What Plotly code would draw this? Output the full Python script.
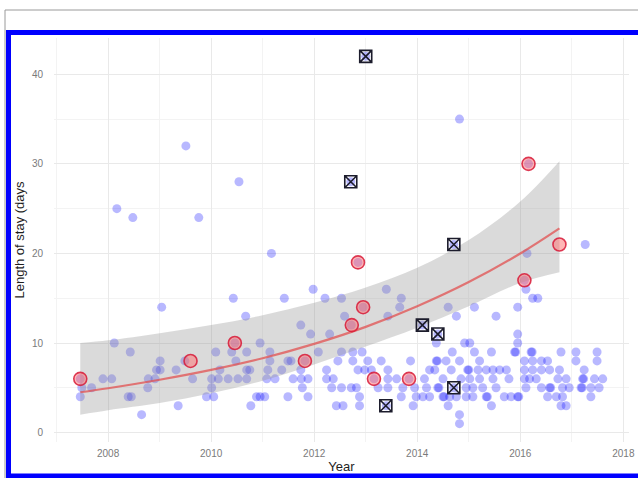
import plotly.graph_objects as go

# Length of stay (days) per admission, by year of admission
blue_year = [
    2014.82,
    2008.65, 2014.82,
    2009.36, 2010.77, 2012.43, 2012.56, 2012.88, 2013.40, 2013.92, 2014.60, 2015.44, 2016.79, 2016.89,
    2007.46, 2008.39, 2008.45, 2009.91, 2010.05, 2010.88, 2010.95, 2011.04, 2011.49, 2011.88, 2012.88,
    2013.69, 2013.98, 2014.11, 2014.24, 2014.50, 2014.52, 2014.63, 2014.76, 2014.95, 2015.08, 2015.34,
    2015.36, 2015.69, 2015.82, 2015.95, 2015.97, 2016.53, 2016.70, 2016.82, 2017.37,
    2007.49, 2007.68, 2008.77, 2010.01, 2011.77, 2012.34, 2012.53, 2012.72, 2012.82, 2013.24, 2013.43,
    2013.72, 2013.95, 2014.18, 2014.40, 2014.42, 2014.71, 2014.95, 2015.08, 2015.27, 2015.53, 2016.11,
    2016.41, 2016.57, 2016.59, 2016.82, 2016.95, 2017.18, 2017.20, 2017.37, 2017.53,
    2007.46, 2007.90, 2008.07, 2008.78, 2008.91, 2009.64, 2010.01, 2010.14, 2010.33, 2010.52, 2010.69,
    2011.08, 2011.24, 2011.59, 2011.75, 2011.88, 2012.24, 2012.37, 2013.16, 2013.43, 2013.60, 2013.84,
    2014.14, 2014.50, 2014.85, 2015.02, 2015.21, 2015.47, 2015.78, 2016.08, 2016.18, 2016.31, 2016.73,
    2016.89, 2017.21, 2017.23, 2017.44, 2017.60,
    2008.94, 2009.01, 2009.32, 2010.17, 2010.69, 2010.75, 2011.10, 2011.37, 2011.74, 2012.24, 2012.85,
    2012.98, 2013.11, 2013.43, 2014.24, 2014.34, 2014.66, 2014.98, 2015.00, 2015.18, 2015.34, 2015.47,
    2015.60, 2015.73, 2016.08, 2016.24, 2016.41, 2016.57, 2016.76, 2017.24,
    2009.01, 2009.49, 2010.48, 2011.14, 2011.49, 2011.55, 2011.82, 2012.46, 2012.75, 2013.04, 2013.30,
    2013.87, 2014.37, 2014.39, 2014.56, 2014.82, 2015.21, 2016.08, 2016.24, 2016.41, 2016.53, 2017.08,
    2017.49,
    2008.43, 2010.09, 2010.40, 2010.69, 2011.14, 2012.08, 2012.53, 2012.75, 2012.93, 2014.68, 2015.11,
    2015.44, 2015.89, 2015.91, 2016.21, 2016.23, 2016.79, 2017.08, 2017.49,
    2008.12, 2010.46, 2010.95, 2014.37, 2014.92, 2015.02, 2015.95,
    2011.93, 2012.30, 2014.40, 2015.95,
    2011.74, 2012.72, 2014.10,
    2010.67, 2012.59, 2013.43, 2014.76, 2015.53,
    2009.04, 2012.95, 2013.66, 2014.60, 2015.11, 2015.95,
    2010.43, 2011.42, 2012.21, 2012.53, 2013.69, 2016.24, 2016.34,
    2011.98, 2013.40, 2016.11,
    2016.08,
    2012.85,
    2011.17, 2016.13,
    2014.71, 2017.26,
    2008.48, 2009.76,
    2008.17,
    2010.54, 2012.71,
    2016.16,
    2009.51,
    2014.82,
    2013.00,
]
blue_days = (
    [1]
    + [2] * 2
    + [3] * 11
    + [4] * 31
    + [5] * 31
    + [6] * 38
    + [7] * 30
    + [8] * 23
    + [9] * 19
    + [10] * 7
    + [11] * 4
    + [12] * 3
    + [13] * 5
    + [14] * 6
    + [15] * 7
    + [16] * 3
    + [17]
    + [19]
    + [20] * 2
    + [21] * 2
    + [24] * 2
    + [25]
    + [28] * 2
    + [30]
    + [32]
    + [35]
    + [42]
)

# Highlighted admissions (red circles)
red_year = [2007.46, 2009.60, 2010.46, 2011.82, 2012.73, 2012.85, 2012.95, 2013.16, 2013.84, 2016.16, 2016.08, 2016.76]
red_days = [6, 8, 10, 8, 12, 19, 14, 6, 6, 30, 17, 21]

# Flagged admissions (boxed crosses)
flag_year = [2013.00, 2012.71, 2014.71, 2014.10, 2014.40, 2013.39, 2014.71]
flag_days = [42, 28, 21, 12, 11, 3, 5]

# Fitted trend for the highlighted admissions, with its confidence band
fit_year = [2007.46, 2008, 2009, 2010, 2011, 2012, 2013, 2014, 2015, 2016, 2016.76]
fit_mid = [4.5, 4.95, 5.9, 7.0, 8.3, 9.9, 11.8, 14.1, 16.8, 20.0, 22.8]
fit_upper = [10.0, 10.3, 11.1, 12.0, 13.1, 14.5, 16.2, 18.4, 21.5, 25.8, 30.3]
fit_lower = [2.0, 2.5, 3.3, 4.4, 5.8, 7.6, 9.6, 11.7, 14.1, 16.7, 17.9]

x_ticks = [2008, 2010, 2012, 2014, 2016, 2018]
y_ticks = [0, 10, 20, 30, 40]

W, H = 638, 478
L, R, T, B = 54, 9, 38, 36
FONT = "Liberation Sans, Arial, sans-serif"


def px_x(p):
    return (p - L) / (W - L - R)


def px_y(p):
    return (H - B - p) / (H - T - B)


fig = go.Figure()

fig.add_trace(go.Scatter(
    x=blue_year, y=blue_days, mode="markers",
    marker=dict(size=9, color="rgba(0,0,255,0.28)", line=dict(width=0)),
    hoverinfo="skip", showlegend=False,
))

# confidence band: lower edge, then upper edge filled down to it
fig.add_trace(go.Scatter(
    x=fit_year, y=fit_lower, mode="lines",
    line=dict(width=0, shape="spline", color="rgba(0,0,0,0)"),
    hoverinfo="skip", showlegend=False,
))
fig.add_trace(go.Scatter(
    x=fit_year, y=fit_upper, mode="lines", fill="tonexty",
    fillcolor="rgba(150,150,150,0.35)",
    line=dict(width=0, shape="spline", color="rgba(0,0,0,0)"),
    hoverinfo="skip", showlegend=False,
))

fig.add_trace(go.Scatter(
    x=fit_year, y=fit_mid, mode="lines",
    line=dict(color="rgba(225,80,80,0.75)", width=2.2, shape="spline"),
    hoverinfo="skip", showlegend=False,
))

fig.add_trace(go.Scatter(
    x=red_year, y=red_days, mode="markers",
    marker=dict(size=13, color="rgba(255,110,110,0.5)",
                line=dict(width=1.6, color="rgba(215,25,55,0.85)")),
    hoverinfo="skip", showlegend=False,
))

fig.add_trace(go.Scatter(
    x=flag_year, y=flag_days, mode="markers",
    marker=dict(size=12, symbol="square-x-open", color="#1c1c2c",
                line=dict(width=1.6, color="#1c1c2c")),
    hoverinfo="skip", showlegend=False,
))

grid_major = "#e9e9e9"
grid_minor = "#f3f3f3"

fig.update_xaxes(
    range=[2006.95, 2018.11], tickvals=x_ticks, ticks="", ticklabelstandoff=4,
    automargin=False,
    showline=False, zeroline=False, showgrid=True, gridcolor=grid_major, gridwidth=1,
    minor=dict(dtick=1, tick0=2007, showgrid=True, gridcolor=grid_minor, gridwidth=1),
    tickfont=dict(family=FONT, size=10, color="#7a7a7a"),
    title=dict(text="Year", standoff=3, font=dict(family=FONT, size=13, color="#1e1e1e")),
)
fig.update_yaxes(
    range=[-1.05, 44.05], tickvals=y_ticks, ticks="", ticklabelstandoff=10,
    automargin=False,
    showline=False, zeroline=False, showgrid=True, gridcolor=grid_major, gridwidth=1,
    minor=dict(dtick=5, tick0=5, showgrid=True, gridcolor=grid_minor, gridwidth=1),
    tickfont=dict(family=FONT, size=10, color="#7a7a7a"),
    title=dict(text="Length of stay (days", standoff=4,
               font=dict(family=FONT, size=13, color="#1e1e1e")),
)

# Page frame: thin grey outline, then a thick blue border around the chart
fig.add_shape(type="line", xref="paper", yref="paper",
              x0=px_x(5), y0=px_y(480), x1=px_x(5), y1=px_y(10),
              line=dict(color="#9a9a9a", width=1))
fig.add_shape(type="line", xref="paper", yref="paper",
              x0=px_x(5), y0=px_y(10), x1=px_x(645), y1=px_y(10),
              line=dict(color="#9a9a9a", width=1))
fig.add_shape(type="rect", xref="paper", yref="paper",
              x0=px_x(8.5), y0=px_y(476), x1=px_x(660), y1=px_y(32.5),
              line=dict(color="#0000ff", width=5), fillcolor="rgba(0,0,0,0)")

fig.update_layout(
    width=W, height=H,
    margin=dict(l=L, r=R, t=T, b=B, pad=0, autoexpand=False),
    paper_bgcolor="white", plot_bgcolor="white",
    showlegend=False,
)

fig.write_html("out.html", config={"displayModeBar": False})
